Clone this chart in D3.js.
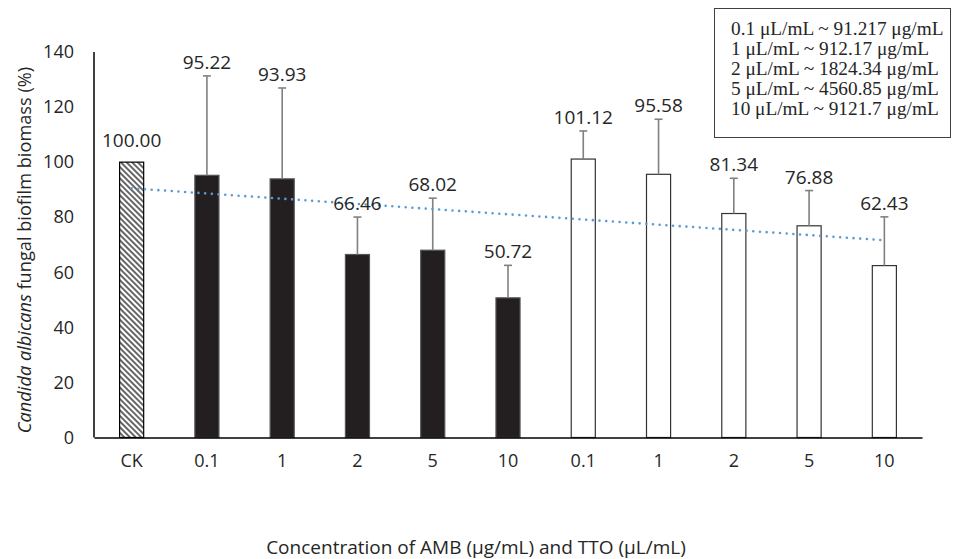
<!DOCTYPE html>
<html>
<head>
<meta charset="utf-8">
<script src="https://cdn.jsdelivr.net/npm/d3@7"></script>
<style>
  body { margin: 0; background: #fff; }
  text { font-family: "Open Sans", sans-serif; fill: #262626; }
</style>
</head>
<body>
<div id="viz"></div>
<script>
// bar categories (tick labels) and which treatment they belong to
const categories = ["CK", "0.1", "1", "2", "5", "10", "0.1", "1", "2", "5", "10"];
const groups = ["CK", "AMB", "AMB", "AMB", "AMB", "AMB", "TTO", "TTO", "TTO", "TTO", "TTO"];
// biomass (%) and upper error (SD)
const means = [100.00, 95.22, 93.93, 66.46, 68.02, 50.72, 101.12, 95.58, 81.34, 76.88, 62.43];
const sds = [0, 36.1, 33.0, 13.6, 18.9, 11.8, 10.2, 20.0, 12.8, 12.8, 17.7];
const yTicks = [0, 20, 40, 60, 80, 100, 120, 140];
const legendLines = [
  "0.1 \u03bcL/mL ~ 91.217 \u03bcg/mL",
  "1 \u03bcL/mL ~ 912.17 \u03bcg/mL",
  "2 \u03bcL/mL ~ 1824.34 \u03bcg/mL",
  "5 \u03bcL/mL ~ 4560.85 \u03bcg/mL",
  "10 \u03bcL/mL ~ 9121.7 \u03bcg/mL"
];

const W = 960, H = 559;
const margin = {top: 52, right: 38, bottom: 121.5, left: 94},
  width = W - margin.left - margin.right,
  height = H - margin.top - margin.bottom;

const svg0 = d3.select("#viz")
  .append("svg")
    .attr("width", W)
    .attr("height", H);

// hatch for the control bar
const defs = svg0.append("defs");
defs.append("pattern")
    .attr("id", "hatch")
    .attr("patternUnits", "userSpaceOnUse")
    .attr("width", 4)
    .attr("height", 4)
    .attr("patternTransform", "rotate(-45)")
  .append("line")
    .attr("x1", 1).attr("y1", 0)
    .attr("x2", 1).attr("y2", 4)
    .attr("stroke", "#000")
    .attr("stroke-width", 1.2);

const svg = svg0.append("g")
  .attr("transform", "translate(" + margin.left + "," + margin.top + ")");

const idx = d3.range(categories.length);
const x = d3.scaleBand()
  .domain(idx)
  .range([0, width])
  .paddingInner(0.68)
  .paddingOuter(0.34);

const y = d3.scaleLinear()
  .domain([0, 140])
  .range([height, 0]);

// y tick labels (no tick marks in the original)
const yAxis = svg.append("g")
  .call(d3.axisLeft(y).tickValues(yTicks).tickSize(0).tickPadding(20));
yAxis.select(".domain").remove();
yAxis.selectAll("text")
  .style("font-family", "Open Sans")
  .style("font-size", "18px")
  .attr("fill", "#262626");

// bars
const fillOf = g => g === "CK" ? "url(#hatch)" : (g === "AMB" ? "#231f20" : "#fff");
const strokeOf = g => g === "CK" ? "#000" : (g === "AMB" ? "#555" : "#333");

svg.append("g")
  .selectAll("rect")
  .data(idx)
  .enter()
  .append("rect")
    .attr("x", i => x(i))
    .attr("y", i => y(means[i]))
    .attr("width", x.bandwidth())
    .attr("height", i => y(0) - y(means[i]))
    .attr("fill", i => fillOf(groups[i]))
    .attr("stroke", i => strokeOf(groups[i]))
    .attr("stroke-width", 1.2);

// error bars (upper only)
const err = svg.append("g")
  .selectAll("g")
  .data(idx.filter(i => sds[i] > 0))
  .enter()
  .append("g")
    .attr("stroke", "#808080")
    .attr("stroke-width", 1.6);
err.append("line")
  .attr("x1", i => x(i) + x.bandwidth() / 2)
  .attr("x2", i => x(i) + x.bandwidth() / 2)
  .attr("y1", i => y(means[i]))
  .attr("y2", i => y(means[i] + sds[i]));
err.append("line")
  .attr("x1", i => x(i) + x.bandwidth() / 2 - 4)
  .attr("x2", i => x(i) + x.bandwidth() / 2 + 4)
  .attr("y1", i => y(means[i] + sds[i]))
  .attr("y2", i => y(means[i] + sds[i]));

// linear trendline over all bars
const mx = d3.mean(idx), my = d3.mean(means);
const slope = d3.sum(idx, i => (i - mx) * (means[i] - my)) / d3.sum(idx, i => (i - mx) * (i - mx));
const fit = i => my + slope * (i - mx);
const ends = [0, categories.length - 1];
svg.append("path")
  .datum(ends)
  .attr("d", d3.line()
    .x(i => x(i) + x.bandwidth() / 2)
    .y(i => y(fit(i))))
  .attr("fill", "none")
  .attr("stroke", "#5b9bd5")
  .attr("stroke-width", 2.6)
  .attr("stroke-linecap", "round")
  .attr("stroke-dasharray", "0 6.7");

// value labels
svg.append("g")
  .selectAll("text")
  .data(idx)
  .enter()
  .append("text")
    .attr("x", i => x(i) + x.bandwidth() / 2)
    .attr("y", i => sds[i] > 0 ? y(means[i] + sds[i]) - 7 : y(means[i]) - 15)
    .attr("text-anchor", "middle")
    .style("font-size", "19px")
    .text(i => means[i].toFixed(2));

// axis lines
svg.append("line")
  .attr("x1", 0).attr("x2", 0)
  .attr("y1", 0).attr("y2", height)
  .attr("stroke", "#000").attr("stroke-width", 1.5);

const xAxis = svg.append("g")
  .attr("transform", "translate(0," + height + ")")
  .call(d3.axisBottom(x).tickSize(0).tickPadding(17).tickFormat(i => categories[i]));
xAxis.select(".domain")
  .attr("stroke", "#000")
  .attr("stroke-width", 1.5);
xAxis.selectAll("text")
  .style("font-family", "Open Sans")
  .style("font-size", "18px")
  .attr("fill", "#262626");

// axis titles
svg0.append("text")
  .attr("x", 476)
  .attr("y", 554)
  .attr("text-anchor", "middle")
  .style("font-size", "19px")
  .text("Concentration of AMB (\u03bcg/mL) and TTO (\u03bcL/mL)");

const yt = svg0.append("text")
  .attr("transform", "translate(31,250) rotate(-90)")
  .attr("text-anchor", "middle")
  .style("font-size", "18.2px");
yt.append("tspan").style("font-style", "italic").text("Candida albicans");
yt.append("tspan").text(" fungal biofilm biomass (%)");

// conversion box
svg0.append("rect")
  .attr("x", 714.5).attr("y", 8.5)
  .attr("width", 236).attr("height", 129)
  .attr("fill", "#fff")
  .attr("stroke", "#404040")
  .attr("stroke-width", 1);

svg0.append("g")
  .selectAll("text")
  .data(legendLines)
  .enter()
  .append("text")
    .attr("x", 731)
    .attr("y", (d, i) => 35 + i * 20)
    .style("font-family", "'Liberation Serif', 'Times New Roman', serif")
    .style("font-size", "19.3px")
    .text(d => d);
</script>
</body>
</html>
